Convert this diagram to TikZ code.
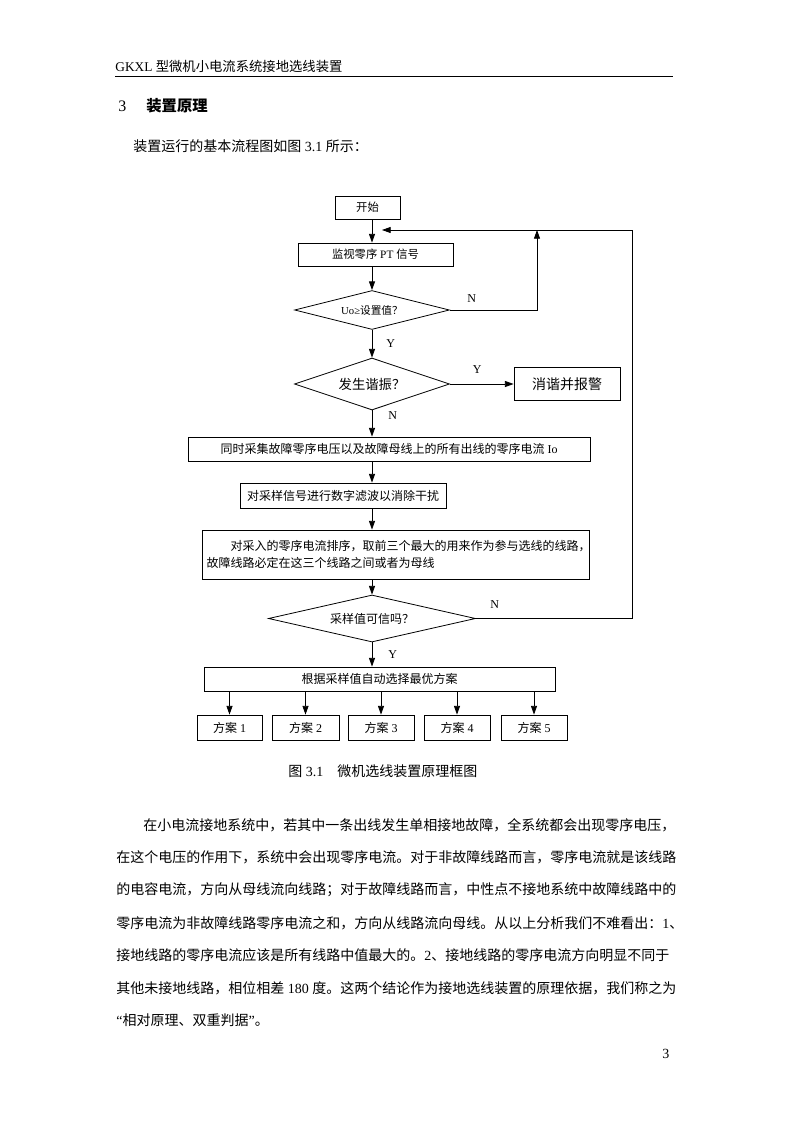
\documentclass[tikz,border=0pt]{standalone}
\usepackage{fontspec}
\setmainfont{Liberation Serif}
\newfontfamily\cjk{Noto Sans CJK SC}
\usetikzlibrary{arrows.meta,shapes.geometric}
% switch to the CJK font on Chinese characters
\XeTeXinterchartokenstate=1
\newXeTeXintercharclass\cjkclass
\newcount\cjkcode
\def\setcjkrange#1#2{\cjkcode=#1\relax
  \loop\XeTeXcharclass\cjkcode=\cjkclass\relax
  \advance\cjkcode by 1\relax
  \ifnum\cjkcode<#2\repeat}
\setcjkrange{"3000}{"3040}
\setcjkrange{"4E00}{"A000}
\setcjkrange{"FF00}{"FFF0}
\XeTeXinterchartoks 0 \cjkclass={\cjk}
\XeTeXinterchartoks 4095 \cjkclass={\cjk}
\XeTeXinterchartoks \cjkclass 0={\rmfamily}
\XeTeXinterchartoks \cjkclass 4095={\rmfamily}
\newdimen\px \px=0.75pt
\begin{document}
\begin{tikzpicture}
    [
    x=0.75pt, y=-0.75pt,
    line width=0.6pt,
    >={Triangle[length=6.5pt,width=4.5pt]},
    box/.style={draw, rectangle, inner sep=2pt},
    decision/.style={draw, diamond, aspect=4, inner sep=0pt},
    yn/.style={font=\fontsize{9}{10}\selectfont, inner sep=0pt},
    txt/.style={anchor=west, inner sep=0pt, font=\fontsize{10.5}{12}\selectfont},
    ]
    \fill[white] (0,0) rectangle (794,1123);
    \useasboundingbox (0,0) rectangle (794,1123);
    % page head
    \node[txt, font=\fontsize{10}{12}\selectfont] (head) at (115,66) {GKXL 型微机小电流系统接地选线装置};
    \coordinate (rulel) at (115,77);
    \coordinate (ruler) at (673,77);
    \draw[line width=0.75pt] (rulel) -- (ruler);
    \node[txt, font=\fontsize{12}{14}\selectfont] (secnum) at (118,106) {3};
    \node[txt, font=\fontsize{11.5}{14}\selectfont\bfseries] (sectitle) at (146,106) {装置原理};
    \node[txt] (intro) at (133,146) {装置运行的基本流程图如图 3.1 所示：};
    % flow chart
    \coordinate (ax) at (372,0);
    \coordinate (up) at (537,230);
    \coordinate (rt) at (632,230);
    \coordinate (back) at (382,230);
    \node[box, minimum width=65\px, minimum height=23\px, font=\fontsize{8.5}{10}\selectfont] (start) at (367.5,207.5) {开始};
    \node[box, minimum width=155\px, minimum height=23\px, font=\fontsize{8.5}{10}\selectfont] (monitor) at (375.5,254.5) {监视零序 PT 信号};
    \node[decision, minimum width=155\px, minimum height=39\px, font=\fontsize{8}{10}\selectfont] (d1) at (372,310) {Uo≥设置值？};
    \node[decision, minimum width=155\px, minimum height=52\px, font=\fontsize{10}{12}\selectfont] (d2) at (372,384) {发生谐振？};
    \node[box, minimum width=106\px, minimum height=33\px, font=\fontsize{10.5}{12}\selectfont] (alarm) at (567,384) {消谐并报警};
    \node[box, minimum width=402\px, minimum height=24\px, font=\fontsize{9}{11}\selectfont] (collect) at (389,449) {同时采集故障零序电压以及故障母线上的所有出线的零序电流 Io};
    \node[box, minimum width=206\px, minimum height=25\px, font=\fontsize{9}{11}\selectfont] (filter) at (343,495.5) {对采样信号进行数字滤波以消除干扰};
    \node[box, minimum width=387\px, minimum height=49\px, text width=378\px, align=left, font=\fontsize{9}{12.75}\selectfont] (sort) at (395.5,554.5)
      {\hspace*{2em}对采入的零序电流排序，取前三个最大的用来作为参与选线的线路，\\故障线路必定在这三个线路之间或者为母线};
    \node[decision, minimum width=207\px, minimum height=47\px, font=\fontsize{9}{11}\selectfont] (d3) at (372,618.5) {采样值可信吗？};
    \node[box, minimum width=351\px, minimum height=24\px, font=\fontsize{9}{11}\selectfont] (choose) at (379.5,679) {根据采样值自动选择最优方案};
    \foreach \k/\cx/\w in {1/229.5/65, 2/305.5/67, 3/381/66, 4/457/66, 5/534/66}
      \node[box, minimum width=\w\px, minimum height=25\px, font=\fontsize{9}{11}\selectfont] (plan\k) at (\cx,727.5) {方案 \k};
    % connectors
    \draw[->] (start.south -| ax) -- (monitor.north -| ax);
    \draw[->] (monitor.south -| ax) -- (d1.north);
    \draw[->] (d1.south) -- node[yn, midway, right=14\px] (y1) {Y} (d2.north);
    \draw[->] (d1.east) -- node[yn, pos=0.25, above=7\px] (n1) {N} (d1.east -| up) -- (up);
    \draw[->] (d2.east) -- node[yn, pos=0.43, above=10\px] (y2) {Y} (alarm.west);
    \draw[->] (d2.south) -- node[yn, pos=0.2, right=16\px] (n2) {N} (collect.north -| ax);
    \draw[->] (collect.south -| ax) -- (filter.north -| ax);
    \draw[->] (filter.south -| ax) -- (sort.north -| ax);
    \draw[->] (sort.south -| ax) -- (d3.north);
    \draw[->] (d3.east) -- node[yn, pos=0.12, above=10\px] (n3) {N} (d3.east -| rt) -- (rt) -- (back);
    \draw[->] (d3.south) -- node[yn, midway, right=16\px] (y3) {Y} (choose.north -| ax);
    \foreach \k in {1,...,5}
      \draw[->] (choose.south -| plan\k) -- (plan\k.north);
    \node[txt] (caption) at (288,771) {图 3.1\quad 微机选线装置原理框图};
    % body text
    \foreach \lx/\ly/\lt [count=\i] in {
      143/825/{在小电流接地系统中，若其中一条出线发生单相接地故障，全系统都会出现零序电压，},
      116/857/{在这个电压的作用下，系统中会出现零序电流。对于非故障线路而言，零序电流就是该线路},
      116/890/{的电容电流，方向从母线流向线路；对于故障线路而言，中性点不接地系统中故障线路中的},
      116/923/{零序电流为非故障线路零序电流之和，方向从线路流向母线。从以上分析我们不难看出：1、},
      116/955/{接地线路的零序电流应该是所有线路中值最大的。2、接地线路的零序电流方向明显不同于},
      116/988/{其他未接地线路，相位相差 180 度。这两个结论作为接地选线装置的原理依据，我们称之为},
      116/1020/{“相对原理、双重判据”。}}
      \node[txt] (line\i) at (\lx,\ly) {\lt};
    \node[txt] (pagenum) at (662,1054) {3};
\end{tikzpicture}
\end{document}
